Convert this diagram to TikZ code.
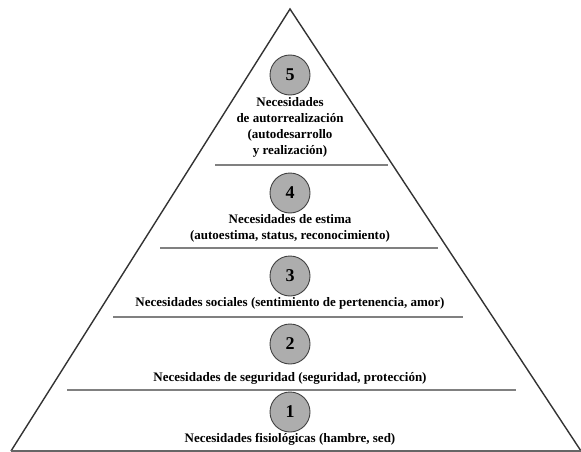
\documentclass[tikz,border=0pt]{standalone}
\usepackage{fontspec}
\setmainfont{Liberation Serif}
\usepackage{tikz}
\usetikzlibrary{calc}

\begin{document}
\begin{tikzpicture}[x=1pt,y=-1pt]
    \begin{scope}[
        level/.style={draw=black!75,fill=black!32,circle,line width=0.9pt,minimum size=40pt,inner sep=0pt,font=\bfseries\fontsize{18}{18}\selectfont},
        need/.style={align=center,font=\bfseries\fontsize{13}{16}\selectfont,inner sep=0pt},
        divider/.style={draw=black!50,line width=2.6pt}]
      
      \useasboundingbox (0,0) rectangle (581,452);
      
      % defines
      \pgfmathsetmacro\MidX{(290)} % X-Koordinate der Mitte
      
      % draw pyramid outline
      \coordinate (top) at (\MidX,9);
      \coordinate (bl) at (11,451);
      \coordinate (br) at (581,451);
      \draw[black!80,line width=1.4pt,line join=miter] (bl) -- (top) -- (br);
      \draw[black!60,line width=1.6pt] (bl) -- (br);
      
      % level 5
      \node (L5) at (\MidX,75) [level] {5};
      \node (T5) at (\MidX,127) [need] {Necesidades\\de autorrealización\\(autodesarrollo\\y realización)};
      \draw[divider] (215,165) -- (388,165);
      
      % level 4
      \node (L4) at (\MidX,193) [level] {4};
      \node (T4) at (\MidX,228) [need] {Necesidades de estima\\(autoestima, status, reconocimiento)};
      \draw[divider] (160,248) -- (438,248);
      
      % level 3
      \node (L3) at (\MidX,276) [level] {3};
      \node (T3) at (\MidX,303) [need] {Necesidades sociales (sentimiento de pertenencia, amor)};
      \draw[divider] (113,317) -- (463,317);
      
      % level 2
      \node (L2) at (\MidX,344) [level] {2};
      \node (T2) at (\MidX,378) [need] {Necesidades de seguridad (seguridad, protección)};
      \draw[divider] (67,390) -- (516,390);
      
      % level 1
      \node (L1) at (\MidX,412) [level] {1};
      \node (T1) at (\MidX,439) [need] {Necesidades fisiológicas (hambre, sed)};
      
    \end{scope}
  \end{tikzpicture}
\end{document}
